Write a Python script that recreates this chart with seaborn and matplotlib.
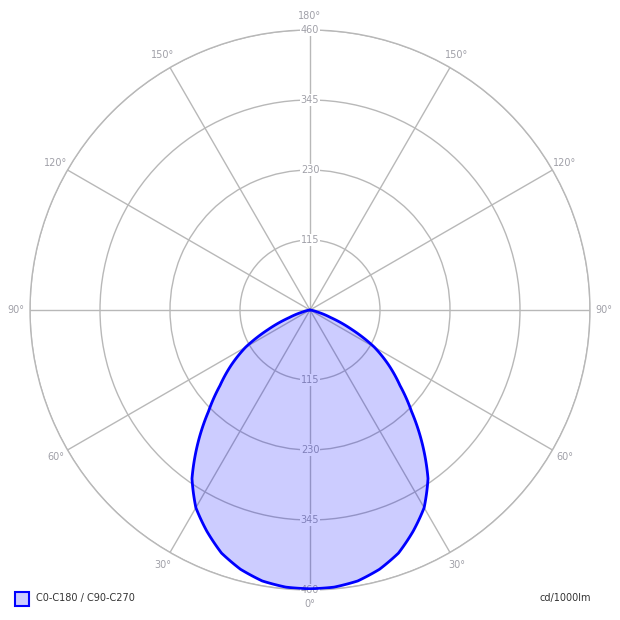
import numpy as np
import pandas as pd
import matplotlib
matplotlib.use("Agg")
import matplotlib.pyplot as plt
from matplotlib.patches import Rectangle
import seaborn as sns

# Data (luminous intensity, cd/1000lm) vs gamma angle (deg), symmetric curve
gamma_deg = [0, 5, 10, 15, 20, 25, 30, 35, 40, 45, 50, 55, 60, 65, 70, 75, 80, 85, 90]
intensity = [458, 457, 452, 441, 425, 401, 375, 338, 287, 236, 193, 158, 122, 76, 36, 12, 3, 0, 0]
ring_values = [115, 230, 345, 460]
ring_labels = ["115", "230", "345", "460"]
spoke_angles = [0, 30, 60, 90, 120, 150, 180, 210, 240, 270, 300, 330]
spoke_labels = ["0°", "30°", "60°", "90°", "120°", "150°", "180°",
                "150°", "120°", "90°", "60°", "30°"]
series_name = "C0-C180 / C90-C270"
unit_label = "cd/1000lm"

sns.set_style("white")
plt.rcParams['font.family'] = ['DejaVu Sans']

W = 620
fig = plt.figure(figsize=(6.2, 6.2), dpi=100)
fig.patch.set_facecolor("white")
ax = fig.add_axes([30 / W, 30 / W, 560 / W, 560 / W], projection="polar")
ax.set_theta_zero_location("S")
ax.set_ylim(0, 460)
ax.set_axisbelow(True)

grid_col = "#b8b8b8"
ax.set_xticks(np.deg2rad(spoke_angles))
ax.set_xticklabels([])
ax.set_yticks(ring_values)
ax.set_yticklabels([])
ax.grid(True, color=grid_col, lw=1.0)
ax.spines["polar"].set_color(grid_col)
ax.spines["polar"].set_linewidth(1.0)
ax.spines["polar"].set_zorder(0.5)
ax.tick_params(length=0)

lab_col = "#a0a0a8"
# Ring labels top and bottom
for v, s in zip(ring_values, ring_labels):
    for th in (0.0, np.pi):
        ax.text(th, v, s, ha="center", va="center", fontsize=7, color=lab_col,
                zorder=1, clip_on=False,
                bbox=dict(boxstyle="square,pad=0.12", fc="white", ec="none"))

# Angle labels
for a, s in zip(spoke_angles, spoke_labels):
    ax.text(np.deg2rad(a), 483, s, ha="center", va="center", fontsize=7,
            color=lab_col, clip_on=False)

# Curve (mirror gamma for both sides)
g = np.array(gamma_deg, dtype=float)
I = np.array(intensity, dtype=float)
theta = np.concatenate([-g[::-1], g[1:]])
rr = np.concatenate([I[::-1], I[1:]])
df = pd.DataFrame({"theta": np.deg2rad(theta), "I": rr})

patches = ax.fill(df["theta"], df["I"], facecolor=(0.0, 0.0, 1.0, 0.2),
                  edgecolor="none", zorder=2)
for p in patches:
    p.get_path()._interpolation_steps = 16
sns.lineplot(data=df, x="theta", y="I", sort=False, estimator=None,
             color="#0000ff", lw=2.0, ax=ax, zorder=3)
line = ax.lines[-1]
line.get_path()._interpolation_steps = 16
line.set_solid_joinstyle("round")
ax.set_xlabel("")
ax.set_ylabel("")
ax.set_ylim(0, 460)

# Legend
fig.patches.append(Rectangle((15 / W, (620 - 606) / W), 14 / W, 14 / W,
                             transform=fig.transFigure, facecolor=(0.8, 0.8, 1.0),
                             edgecolor="#0000ff", lw=1.5))
fig.text(36 / W, (620 - 598) / W, series_name, ha="left", va="center",
         fontsize=7, color="#333333")
fig.text(591 / W, (620 - 598) / W, unit_label, ha="right", va="center",
         fontsize=7, color="#333333")

fig.savefig("out.png", dpi=100)
